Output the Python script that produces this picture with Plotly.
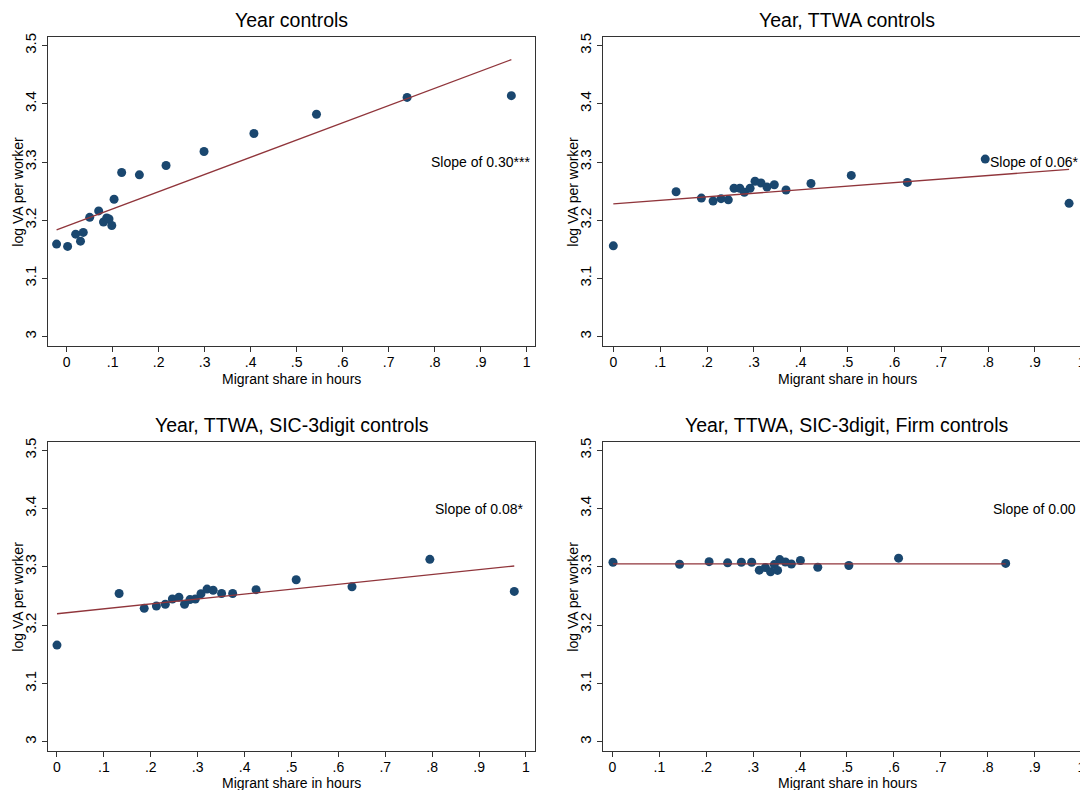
import plotly.graph_objects as go

# ---------------- data ----------------
x_tick_vals = [0.0, 0.1, 0.2, 0.3, 0.4, 0.5, 0.6, 0.7, 0.8, 0.9, 1.0]
x_tick_text = ["0", ".1", ".2", ".3", ".4", ".5", ".6", ".7", ".8", ".9", "1"]
y_tick_vals = [3.0, 3.1, 3.2, 3.3, 3.4, 3.5]
y_tick_text = ["3", "3.1", "3.2", "3.3", "3.4", "3.5"]

panel_titles = [
    "Year controls",
    "Year, TTWA controls",
    "Year, TTWA, SIC-3digit controls",
    "Year, TTWA, SIC-3digit, Firm controls",
]
slope_labels = ["Slope of 0.30***", "Slope of 0.06*", "Slope of 0.08*", "Slope of 0.00"]
slope_label_x = [0.9, 0.9, 0.9, 0.9]
slope_label_y = [3.3, 3.3, 3.4, 3.4]

x_title = "Migrant share in hours"
y_title = "log VA per worker"

p1_x = [-0.022, 0.002, 0.0195, 0.030, 0.036, 0.050, 0.0695, 0.080, 0.087, 0.092, 0.098,
        0.103, 0.1195, 0.158, 0.216, 0.2985, 0.407, 0.543, 0.740, 0.9666]
p1_y = [3.159, 3.155, 3.176, 3.164, 3.179, 3.205, 3.216, 3.197, 3.204, 3.202, 3.191,
        3.236, 3.282, 3.278, 3.294, 3.318, 3.349, 3.382, 3.411, 3.414]

p2_x = [0.0, 0.134, 0.188, 0.213, 0.230, 0.2455, 0.2577, 0.270, 0.2797, 0.292, 0.3025,
        0.3153, 0.328, 0.3437, 0.3687, 0.422, 0.508, 0.6277, 0.794, 0.973]
p2_y = [3.156, 3.249, 3.238, 3.233, 3.237, 3.235, 3.255, 3.255, 3.248, 3.255, 3.267,
        3.264, 3.257, 3.261, 3.252, 3.263, 3.277, 3.265, 3.305, 3.229]

p3_x = [0.0, 0.1325, 0.186, 0.212, 0.231, 0.246, 0.260, 0.272, 0.2835, 0.295, 0.307,
        0.320, 0.333, 0.351, 0.3746, 0.4245, 0.510, 0.629, 0.795, 0.975]
p3_y = [3.166, 3.2545, 3.229, 3.233, 3.236, 3.245, 3.248, 3.236, 3.244, 3.245, 3.254,
        3.262, 3.260, 3.2545, 3.2545, 3.261, 3.278, 3.266, 3.313, 3.258]

p4_x = [0.001, 0.143, 0.206, 0.2455, 0.2748, 0.2968, 0.313, 0.326, 0.337, 0.345, 0.352,
        0.3566, 0.3687, 0.3815, 0.4007, 0.4377, 0.504, 0.610, 0.8384]
p4_y = [3.308, 3.3046, 3.309, 3.307, 3.308, 3.308, 3.2944, 3.299, 3.2915, 3.304, 3.294,
        3.3126, 3.3085, 3.305, 3.311, 3.2995, 3.3024, 3.315, 3.306]

fit_intercepts = [3.1899, 3.228, 3.2197, 3.3053]
fit_slopes = [0.296, 0.061, 0.084, 0.0]

panels_x = [p1_x, p2_x, p3_x, p4_x]
panels_y = [p1_y, p2_y, p3_y, p4_y]

# ---------------- layout constants ----------------
# the page body has an 8px margin, so the figure is drawn 8px smaller and
# all reference pixel positions are shifted by that offset
OFF = 8
W, H = 1088 - OFF, 790 - OFF
# plot boxes in reference pixels: left, right, top, bottom
boxes = [
    (48.3, 535.0, 33.3, 343.3),
    (603.3, 1088.0, 33.3, 343.3),
    (48.3, 535.0, 440.0, 750.7),
    (603.3, 1088.0, 440.0, 750.7),
]
x_ranges = [[-0.040, 1.018], [-0.0214, 1.0134], [-0.0185, 1.0192], [-0.0196, 1.0139]]
y_range = [2.9846, 3.5145]
title_centers = [291.6, 847.4, 291.6, 847.4]
xtitle_gap = [34, 34, 32, 32]

NAVY = "#1a476f"
MAROON = "#90353b"
AXIS = "#333333"
FONT = "Liberation Sans, Arial, sans-serif"


def px(xp):
    return (xp - OFF) / W


def py(yp):
    return 1 - (yp - OFF) / H


fig = go.Figure()
layout = dict(
    width=W, height=H,
    margin=dict(l=0, r=0, t=0, b=0),
    paper_bgcolor="white", plot_bgcolor="white",
    showlegend=False,
    font=dict(family=FONT, size=14, color="#000000"),
)
annotations = []

for i in range(4):
    n = "" if i == 0 else str(i + 1)
    xa, ya = "x" + n, "y" + n
    xs, ys = panels_x[i], panels_y[i]
    fig.add_trace(go.Scatter(
        x=xs, y=ys, mode="markers", xaxis=xa, yaxis=ya,
        marker=dict(color=NAVY, size=9, line=dict(width=0)),
    ))
    fx = [min(xs), max(xs)]
    fy = [fit_intercepts[i] + fit_slopes[i] * v for v in fx]
    fig.add_trace(go.Scatter(
        x=fx, y=fy, mode="lines", xaxis=xa, yaxis=ya,
        line=dict(color=MAROON, width=1.3),
    ))
    l, r, t, b = boxes[i]
    right_panel = i in (1, 3)
    layout["xaxis" + n] = dict(
        domain=[max(px(l), 0), min(px(r), 1)], range=x_ranges[i], anchor=ya,
        tickvals=x_tick_vals, ticktext=x_tick_text,
        ticks="outside", ticklen=5, tickwidth=1, tickcolor=AXIS,
        ticklabelstandoff=-2,
        showline=True, linecolor=AXIS, linewidth=1.3, mirror=True,
        showgrid=False, zeroline=False,
        tickfont=dict(size=14, family=FONT, color="#000000"),
    )
    layout["yaxis" + n] = dict(
        domain=[py(b), py(t)], range=y_range, anchor=xa,
        tickvals=y_tick_vals, ticktext=y_tick_text, tickangle=-90,
        ticks="outside", ticklen=5, tickwidth=1, tickcolor=AXIS,
        showline=True, linecolor=AXIS, linewidth=1.3,
        mirror=(not right_panel),
        showgrid=False, zeroline=False,
        tickfont=dict(size=15, family=FONT, color="#000000"),
    )
    # panel title
    annotations.append(dict(
        text=panel_titles[i], xref="paper", yref="paper",
        x=px(title_centers[i]), y=py(t - 17),
        xanchor="center", yanchor="middle", showarrow=False,
        font=dict(size=19.5, family=FONT, color="#000000"),
    ))
    # x axis title
    annotations.append(dict(
        text=x_title, xref="paper", yref="paper",
        x=px(title_centers[i]), y=py(b + xtitle_gap[i]),
        xanchor="center", yanchor="middle", showarrow=False,
        font=dict(size=14, family=FONT, color="#000000"),
    ))
    # y axis title
    annotations.append(dict(
        text=y_title, xref="paper", yref="paper",
        x=px(l - 30), y=py((t + b) / 2),
        xanchor="center", yanchor="middle", textangle=-90, showarrow=False,
        font=dict(size=14, family=FONT, color="#000000"),
    ))
    # slope label
    annotations.append(dict(
        text=slope_labels[i], xref=xa, yref=ya,
        x=slope_label_x[i], y=slope_label_y[i],
        xanchor="center", yanchor="middle", showarrow=False,
        font=dict(size=14, family=FONT, color="#000000"),
    ))

layout["annotations"] = annotations
fig.update_layout(**layout)
fig.write_html("out.html")
